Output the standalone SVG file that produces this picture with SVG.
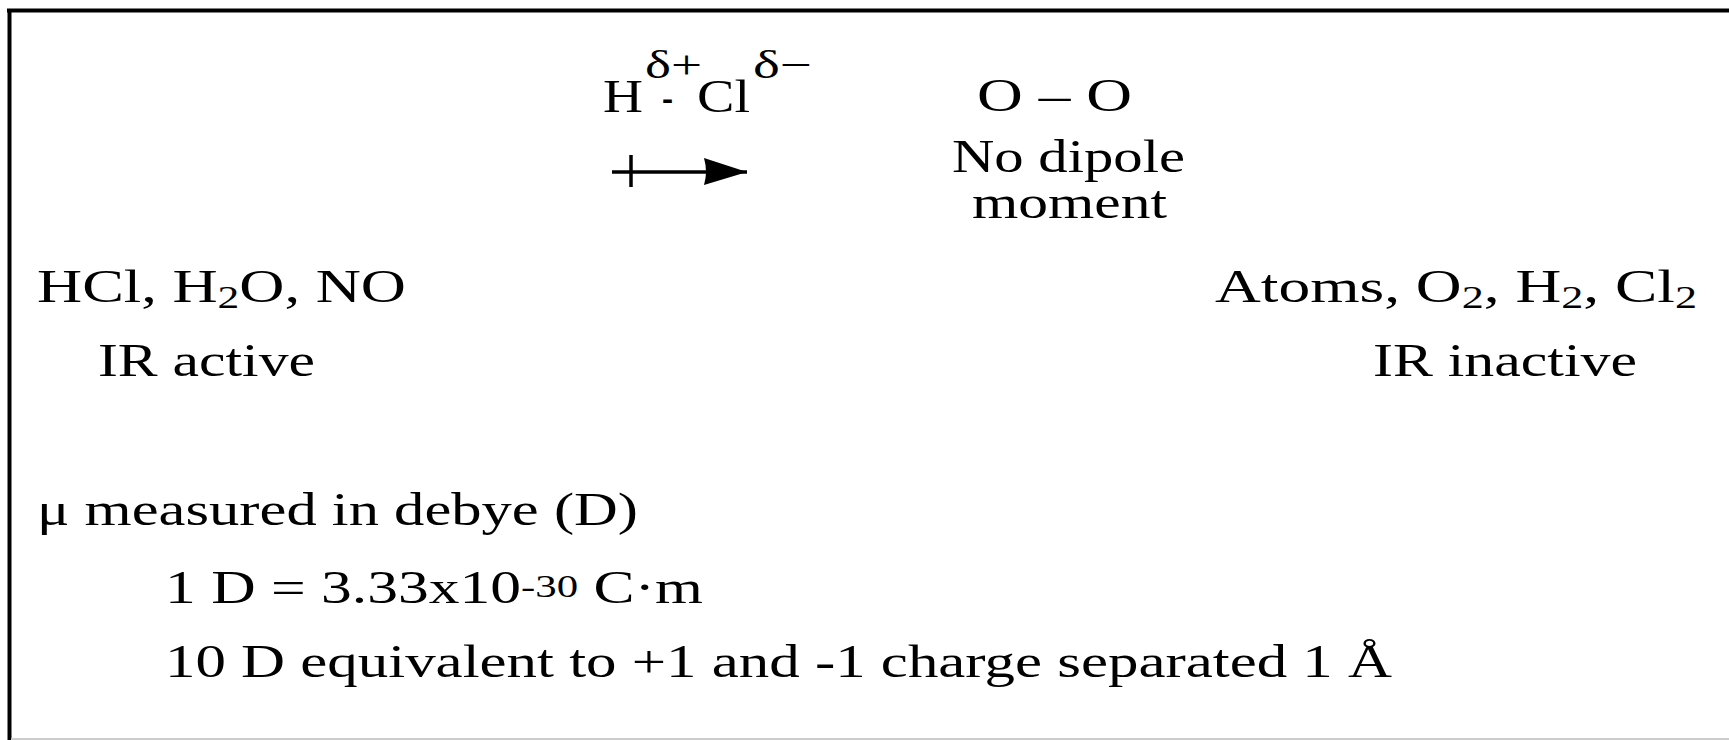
<svg xmlns="http://www.w3.org/2000/svg" width="1729" height="740" viewBox="0 0 1729 740">
  <style>
    text { font-family: "Liberation Serif", "Times New Roman", serif; fill: #000; }
    .t { font-size: 46px; }
    .sup { font-size: 40px; }
    .sub { font-size: 32px; }
    .frame { stroke: #000; stroke-width: 4; fill: none; }
    .dip { stroke: #000; stroke-width: 3.5; fill: none; }
  </style>
  <defs>
    <marker id="head" markerUnits="userSpaceOnUse" markerWidth="46" markerHeight="30" refX="43" refY="15" orient="auto">
      <path d="M0,1 L43,15 L0,28 Q4,15 0,1 Z" fill="#000"/>
    </marker>
  </defs>
  <rect width="1729" height="740" fill="#fff"/>
  <g id="frame">
    <line class="frame" x1="7" y1="10.5" x2="1729" y2="10.5"/>
    <line class="frame" x1="9.5" y1="9" x2="9.5" y2="740"/>
    <line x1="11" y1="739" x2="1729" y2="739" stroke="#cccccc" stroke-width="2"/>
  </g>
  <g id="hcl">
    <text class="t" x="603" y="112" textLength="40" lengthAdjust="spacingAndGlyphs">H</text>
    <text class="t" x="662" y="112" textLength="11" lengthAdjust="spacingAndGlyphs">-</text>
    <text class="t" x="697" y="112" textLength="53" lengthAdjust="spacingAndGlyphs">Cl</text>
    <text class="sup" x="645" y="78" textLength="57" lengthAdjust="spacingAndGlyphs">δ+</text>
    <text class="sup" x="753" y="78" textLength="59" lengthAdjust="spacingAndGlyphs">δ−</text>
  </g>
  <g id="connectors">
    <line class="dip" x1="612" y1="172" x2="747" y2="172" marker-end="url(#head)"/>
    <line class="dip" x1="631" y1="155" x2="631" y2="187"/>
  </g>
  <g id="o2">
    <text class="t" x="977" y="111" textLength="155" lengthAdjust="spacingAndGlyphs">O – O</text>
    <text class="t" x="952" y="172" textLength="233" lengthAdjust="spacingAndGlyphs">No dipole</text>
    <text class="t" x="972" y="218" textLength="195" lengthAdjust="spacingAndGlyphs">moment</text>
  </g>
  <g id="active">
    <text class="t" x="37" y="302" textLength="369" lengthAdjust="spacingAndGlyphs">HCl, H<tspan class="sub" dy="6">2</tspan><tspan dy="-6">O, NO</tspan></text>
    <text class="t" x="98" y="376" textLength="217" lengthAdjust="spacingAndGlyphs">IR active</text>
  </g>
  <g id="inactive">
    <text class="t" x="1215" y="302" textLength="482" lengthAdjust="spacingAndGlyphs">Atoms, O<tspan class="sub" dy="6">2</tspan><tspan dy="-6">, H</tspan><tspan class="sub" dy="6">2</tspan><tspan dy="-6">, Cl</tspan><tspan class="sub" dy="6">2</tspan></text>
    <text class="t" x="1373" y="376" textLength="264" lengthAdjust="spacingAndGlyphs">IR inactive</text>
  </g>
  <g id="debye">
    <text class="t" x="37" y="525" textLength="601" lengthAdjust="spacingAndGlyphs">μ measured in debye (D)</text>
    <text class="t" x="165" y="603" textLength="538" lengthAdjust="spacingAndGlyphs">1 D = 3.33x10<tspan class="sub" dy="-6">-30</tspan><tspan dy="6"> C·m</tspan></text>
    <text class="t" x="165" y="677" textLength="1227" lengthAdjust="spacingAndGlyphs">10 D equivalent to +1 and -1 charge separated 1 Å</text>
  </g>
</svg>
